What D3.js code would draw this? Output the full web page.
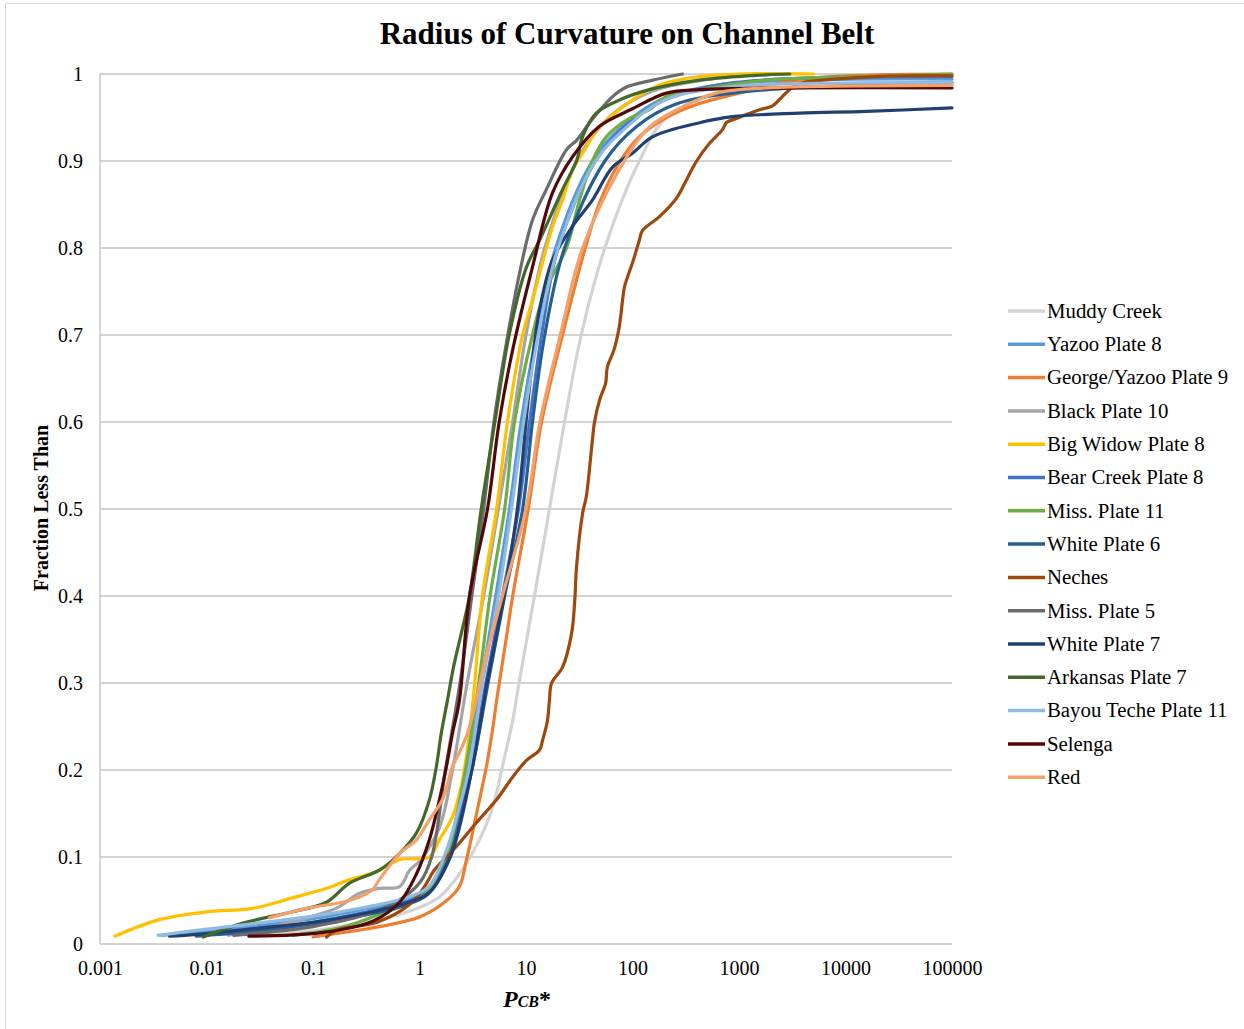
<!DOCTYPE html>
<html>
<head>
<meta charset="utf-8">
<title>Radius of Curvature on Channel Belt</title>
<script src="https://cdn.jsdelivr.net/npm/d3@7"></script>
<style>
body { margin: 0; background: #fff; }
svg { display: block; }
text { font-family: "Liberation Serif", "Times New Roman", serif; fill: #000; }
.grid line { stroke: #c4c4c4; stroke-width: 1.4px; }
.series { fill: none; stroke-width: 3.2px; stroke-linejoin: round; stroke-linecap: round; }
</style>
</head>
<body>
<svg width="1244" height="1029"></svg>
<script>

// series names + colours (legend order = draw order)
var names = ["Muddy Creek", "Yazoo Plate 8", "George/Yazoo Plate 9", "Black Plate 10",
  "Big Widow Plate 8", "Bear Creek Plate 8", "Miss. Plate 11", "White Plate 6", "Neches",
  "Miss. Plate 5", "White Plate 7", "Arkansas Plate 7", "Bayou Teche Plate 11", "Selenga", "Red"];

var colors = ["#d3d3d3", "#5b9bd5", "#ed7d31", "#a5a5a5", "#ffc000", "#4472c4", "#70ad47",
  "#255e91", "#9e480e", "#6b6b6b", "#223f72", "#43682b", "#8fbbe3", "#520808", "#f4a06a"];

var xTicks = [0.001, 0.01, 0.1, 1, 10, 100, 1000, 10000, 100000];
var xTickLabels = ["0.001", "0.01", "0.1", "1", "10", "100", "1000", "10000", "100000"];
var yTicks = [0, 0.1, 0.2, 0.3, 0.4, 0.5, 0.6, 0.7, 0.8, 0.9, 1];
var yTickLabels = ["0", "0.1", "0.2", "0.3", "0.4", "0.5", "0.6", "0.7", "0.8", "0.9", "1"];

// [P_CB*, fraction less than]
var muddyCreek = [[0.03,0.01],[0.1,0.015],[0.27,0.024],[0.42,0.028],[1.0,0.042],[1.54,0.054],[2.2,0.075],[2.76,0.093],[3.66,0.12],[4.9,0.158],[6.0,0.204],[7.5,0.257],[8.6,0.3],[12,0.4],[16.6,0.5],[23,0.6],[33,0.7],[55,0.8],[116,0.9],[208,0.95],[610,0.978],[2400,0.99],[20000,0.996]];
var yazoo8 = [[0.0038,0.01],[0.01,0.015],[0.03,0.021],[0.1,0.029],[0.3,0.04],[0.7,0.05],[1.2,0.062],[1.75,0.1],[2.8,0.2],[3.8,0.3],[5.2,0.4],[7.0,0.5],[9.0,0.6],[12.5,0.7],[19,0.8],[42,0.9],[80,0.94],[180,0.97],[700,0.988],[100000,0.994]];
var george9 = [[0.1,0.008],[0.27,0.016],[0.42,0.02],[1.0,0.031],[1.8,0.05],[2.37,0.066],[2.76,0.097],[3.15,0.128],[3.66,0.166],[4.25,0.204],[4.9,0.25],[5.3,0.28],[6.5,0.35],[7.5,0.4],[10.5,0.5],[14,0.6],[22,0.7],[36,0.8],[49,0.852],[75,0.898],[116,0.928],[208,0.95],[425,0.966],[1000,0.978],[2550,0.99],[7500,0.997],[100000,1.0]];
var black10 = [[0.016,0.01],[0.05,0.022],[0.12,0.035],[0.177,0.043],[0.27,0.058],[0.42,0.064],[0.65,0.066],[0.81,0.085],[1.0,0.095],[1.54,0.134],[2.04,0.2],[2.8,0.3],[4.0,0.4],[5.5,0.5],[7.5,0.6],[10,0.7],[15,0.8],[30,0.9],[60,0.95],[150,0.98],[600,0.995],[1500,1.0]];
var bigWidow8 = [[0.00138,0.009],[0.0036,0.028],[0.01,0.037],[0.027,0.041],[0.064,0.053],[0.134,0.064],[0.22,0.074],[0.39,0.083],[0.65,0.097],[1.24,0.1],[1.54,0.12],[2.04,0.146],[2.5,0.185],[2.95,0.242],[3.3,0.3],[3.9,0.4],[5.3,0.5],[6.7,0.6],[9.3,0.7],[11.5,0.74],[17.7,0.824],[22,0.855],[27.4,0.89],[34,0.909],[49,0.939],[75,0.959],[144,0.982],[208,0.99],[425,0.997],[1000,1.0],[5000,1.0]];
var bearCreek8 = [[0.009,0.01],[0.03,0.017],[0.1,0.025],[0.3,0.036],[0.7,0.047],[1.2,0.06],[1.85,0.1],[3.0,0.2],[4.2,0.3],[6.0,0.4],[8.5,0.5],[10.8,0.6],[14,0.7],[20,0.8],[45,0.9],[85,0.94],[200,0.97],[900,0.99],[100000,0.997]];
var miss11 = [[0.064,0.01],[0.1,0.013],[0.2,0.02],[0.4,0.033],[0.8,0.047],[1.2,0.06],[1.6,0.09],[1.8,0.1],[2.7,0.2],[3.6,0.3],[4.6,0.4],[6.3,0.5],[7.8,0.6],[11.5,0.7],[15,0.75],[24,0.8],[31.8,0.855],[42,0.9],[57,0.928],[88,0.947],[144,0.959],[208,0.974],[425,0.982],[1800,0.993],[32000,0.998],[100000,1.0]];
var white6 = [[0.008,0.009],[0.03,0.015],[0.1,0.023],[0.3,0.033],[0.7,0.044],[1.2,0.057],[1.9,0.1],[3.1,0.2],[4.4,0.3],[6.3,0.4],[9.3,0.5],[11.5,0.6],[15,0.7],[23,0.8],[55,0.9],[110,0.94],[250,0.965],[1200,0.98],[100000,0.99]];
var neches = [[0.134,0.008],[0.166,0.016],[0.4,0.025],[0.8,0.045],[1.1,0.065],[1.38,0.085],[2.22,0.112],[3.4,0.139],[5.3,0.166],[7.5,0.192],[10.1,0.211],[13.4,0.223],[14.3,0.234],[15.9,0.257],[16.6,0.28],[17.4,0.3],[22,0.318],[26.8,0.357],[28.7,0.395],[29.8,0.433],[34,0.495],[36.8,0.514],[42,0.579],[44,0.6],[49,0.625],[56,0.645],[58,0.663],[67,0.683],[75,0.709],[84,0.755],[90,0.767],[100,0.783],[116,0.809],[124,0.82],[179,0.836],[258,0.857],[320,0.878],[400,0.9],[527,0.92],[700,0.936],[760,0.944],[1000,0.95],[1560,0.959],[2050,0.963],[2550,0.974],[3200,0.985],[4000,0.99],[19500,0.997],[100000,0.998]];
var miss5 = [[0.018,0.01],[0.05,0.015],[0.1,0.02],[0.3,0.033],[0.6,0.048],[1.0,0.07],[1.3,0.1],[1.75,0.2],[2.4,0.3],[3.1,0.4],[4.0,0.5],[5.0,0.6],[6.3,0.679],[8.7,0.771],[11.5,0.832],[15.5,0.867],[24,0.913],[30,0.924],[39.5,0.944],[65,0.974],[88,0.985],[155,0.993],[295,1.0]];
var white7 = [[0.0045,0.009],[0.01,0.012],[0.03,0.018],[0.1,0.025],[0.3,0.035],[0.7,0.046],[1.2,0.058],[1.95,0.1],[3.1,0.2],[4.3,0.3],[6.2,0.4],[8.3,0.5],[10,0.6],[11.5,0.671],[13.4,0.729],[17.7,0.786],[27,0.824],[42,0.855],[65,0.893],[100,0.909],[155,0.928],[425,0.944],[870,0.951],[3700,0.955],[15700,0.957],[100000,0.961]];
var arkansas7 = [[0.0093,0.008],[0.022,0.024],[0.064,0.037],[0.134,0.048],[0.22,0.07],[0.42,0.085],[0.65,0.104],[0.94,0.128],[1.24,0.166],[1.44,0.204],[1.6,0.242],[1.83,0.28],[2.1,0.32],[2.5,0.36],[2.95,0.4],[3.8,0.5],[5.1,0.6],[7,0.702],[10.1,0.778],[13.4,0.809],[22,0.867],[30,0.901],[34,0.928],[45.6,0.955],[75,0.97],[144,0.982],[425,0.993],[1800,0.999],[3000,1.0]];
var bayouTeche11 = [[0.0035,0.01],[0.01,0.017],[0.03,0.024],[0.1,0.032],[0.3,0.042],[0.7,0.052],[1.2,0.065],[1.7,0.1],[2.4,0.16],[2.9,0.2],[3.9,0.3],[5.5,0.4],[7.3,0.5],[9.5,0.6],[13,0.7],[20,0.8],[45,0.9],[90,0.94],[200,0.97],[800,0.985],[100000,0.99]];
var selenga = [[0.025,0.009],[0.12,0.013],[0.36,0.026],[0.65,0.048],[0.94,0.081],[1.24,0.12],[1.54,0.166],[1.79,0.204],[2.04,0.242],[2.37,0.28],[2.95,0.4],[4.35,0.5],[5.6,0.6],[7.5,0.683],[11.5,0.778],[17.7,0.863],[27.4,0.905],[49,0.94],[100,0.96],[208,0.978],[425,0.982],[100000,0.984]];
var red = [[0.039,0.03],[0.087,0.041],[0.22,0.05],[0.36,0.062],[0.42,0.074],[0.65,0.104],[0.94,0.12],[1.24,0.143],[1.64,0.166],[2.04,0.204],[2.37,0.22],[2.82,0.242],[3.4,0.28],[4.2,0.33],[6.0,0.4],[10,0.5],[13.5,0.6],[21,0.7],[34,0.8],[75,0.89],[144,0.939],[295,0.962],[610,0.978],[1800,0.984],[100000,0.987]];

var seriesData = [muddyCreek, yazoo8, george9, black10, bigWidow8, bearCreek8, miss11,
  white6, neches, miss5, white7, arkansas7, bayouTeche11, selenga, red];

var svg = d3.select("svg");

var x = d3.scaleLog().domain([0.001, 100000]).range([100, 952]);
var y = d3.scaleLinear().domain([0, 1]).range([944, 74]);

// outer frame of the chart object
svg.append("rect")
    .attr("x", 5.5).attr("y", 3.5)
    .attr("width", 1300).attr("height", 1100)
    .attr("fill", "none").attr("stroke", "#d9d9d9");

// horizontal gridlines
svg.append("g").attr("class", "grid")
  .selectAll("line")
    .data(yTicks)
  .enter().append("line")
    .attr("x1", 100).attr("x2", 952)
    .attr("y1", function(d) { return y(d); })
    .attr("y2", function(d) { return y(d); });

// left axis line
svg.append("line")
    .attr("x1", 100).attr("x2", 100).attr("y1", 74).attr("y2", 944)
    .attr("stroke", "#c4c4c4").attr("stroke-width", 1.4);

var yAxis = svg.append("g")
    .attr("transform", "translate(100,0)")
    .call(d3.axisLeft(y).tickValues(yTicks)
      .tickFormat(function(d, i) { return yTickLabels[i]; })
      .tickSize(0).tickPadding(17));
yAxis.select(".domain").remove();
yAxis.selectAll("text").style("font-size", "20px").style("font-family", "Liberation Serif");

var xAxis = svg.append("g")
    .attr("transform", "translate(0,944)")
    .call(d3.axisBottom(x).tickValues(xTicks)
      .tickFormat(function(d, i) { return xTickLabels[i]; })
      .tickSize(0).tickPadding(17));
xAxis.select(".domain").remove();
xAxis.selectAll("text").style("font-size", "20px").style("font-family", "Liberation Serif");

var line = d3.line()
    .x(function(d) { return x(d[0]); })
    .y(function(d) { return y(d[1]); })
    .curve(d3.curveCatmullRom.alpha(0.5));

svg.append("g")
  .selectAll("path")
    .data(seriesData)
  .enter().append("path")
    .attr("class", "series")
    .attr("stroke", function(d, i) { return colors[i]; })
    .attr("d", line);

// title
svg.append("text")
    .attr("x", 627).attr("y", 44)
    .attr("text-anchor", "middle")
    .style("font-size", "31px").style("font-weight", "bold")
    .text("Radius of Curvature on Channel Belt");

// y axis title
svg.append("text")
    .attr("transform", "translate(48,508) rotate(-90)")
    .attr("text-anchor", "middle")
    .style("font-size", "20px").style("font-weight", "bold")
    .text("Fraction Less Than");

// x axis title  P_CB*
var xt = svg.append("text")
    .attr("x", 503).attr("y", 1007)
    .style("font-weight", "bold").style("font-style", "italic");
xt.append("tspan").style("font-size", "24px").text("P");
xt.append("tspan").style("font-size", "16px").text("CB");
xt.append("tspan").style("font-size", "24px").style("font-style", "normal").text("*");

// legend
var legend = svg.append("g")
  .selectAll("g")
    .data(names)
  .enter().append("g")
    .attr("transform", function(d, i) { return "translate(1008," + (311 + i * 33.3) + ")"; });

legend.append("line")
    .attr("x1", 0).attr("x2", 37)
    .attr("stroke", function(d, i) { return colors[i]; })
    .attr("stroke-width", 3.5);

legend.append("text")
    .attr("x", 39).attr("dy", "0.33em")
    .style("font-size", "20.8px")
    .text(function(d) { return d; });

</script>
</body>
</html>
